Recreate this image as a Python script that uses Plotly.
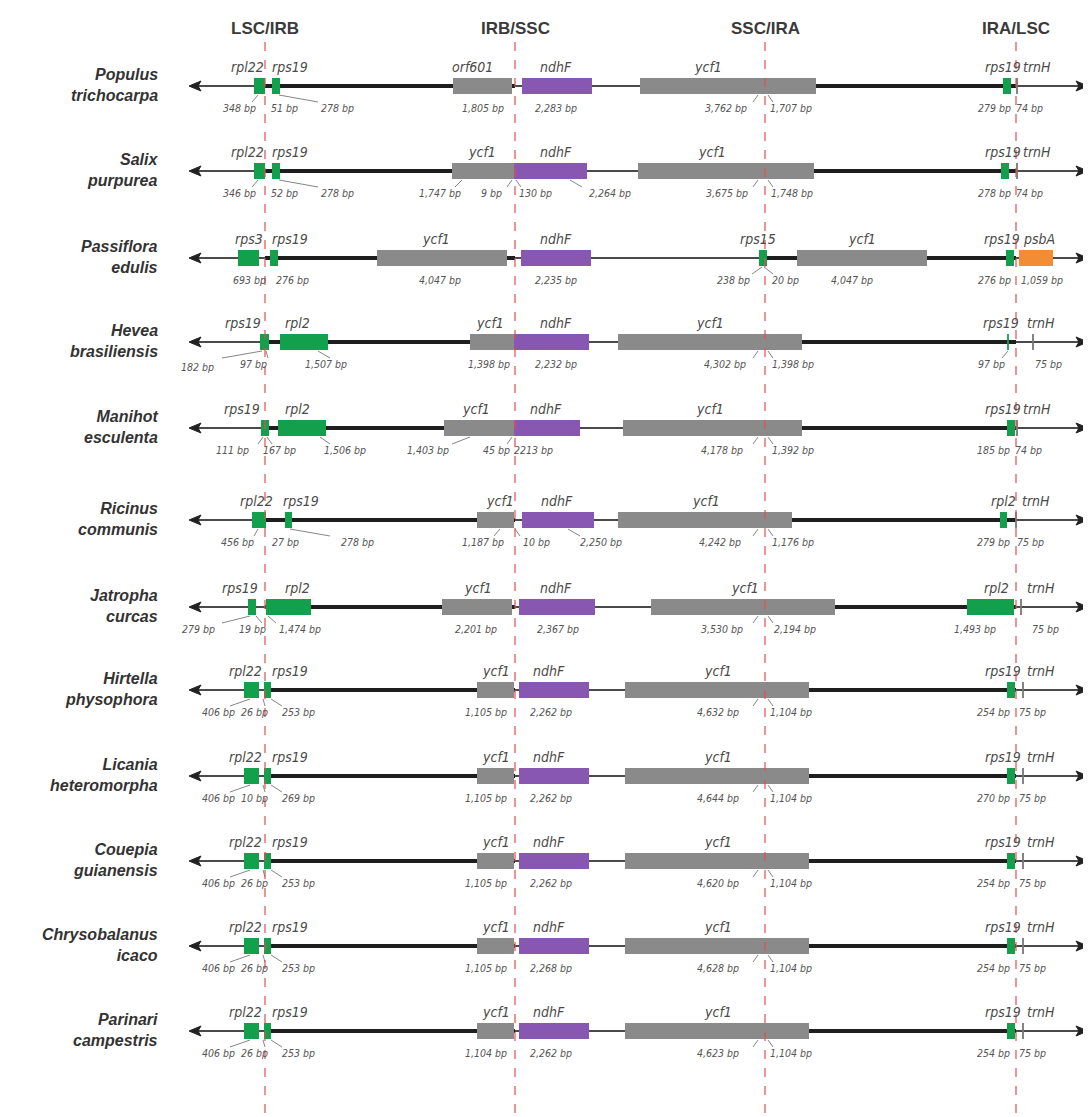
import plotly.graph_objects as go

# ---------------- data ----------------
junction_names = ["LSC/IRB", "IRB/SSC", "SSC/IRA", "IRA/LSC"]
junction_x = [265, 515, 765, 1016]

species_genus = ["Populus", "Salix", "Passiflora", "Hevea", "Manihot", "Ricinus",
                 "Jatropha", "Hirtella", "Licania", "Couepia", "Chrysobalanus", "Parinari"]
species_epithet = ["trichocarpa", "purpurea", "edulis", "brasiliensis", "esculenta", "communis",
                   "curcas", "physophora", "heteromorpha", "guianensis", "icaco", "campestris"]

# genes per row: (name, start, end, color-key, label_x)
G, Y, P, O = "green", "gray", "purple", "orange"
genes = [
    [("rpl22", 254, 265, G, 247), ("rps19", 272, 280, G, 290), ("orf601", 453, 512, Y, 472),
     ("ndhF", 522, 592, P, 556), ("ycf1", 640, 816, Y, 708), ("rps19", 1003, 1011, G, 1003),
     ("trnH", 1017, 1018, Y, 1037)],
    [("rpl22", 254, 265, G, 247), ("rps19", 272, 280, G, 290), ("ycf1", 452, 514, Y, 482),
     ("ndhF", 514, 587, P, 556), ("ycf1", 638, 814, Y, 712), ("rps19", 1001, 1009, G, 1003),
     ("trnH", 1017, 1018, Y, 1037)],
    [("rps3", 238, 259, G, 249), ("rps19", 270, 278, G, 290), ("ycf1", 377, 507, Y, 436),
     ("ndhF", 521, 591, P, 556), ("rps15", 759, 767, G, 758), ("ycf1", 797, 927, Y, 862),
     ("rps19", 1006, 1014, G, 1002), ("psbA", 1019, 1053, O, 1039)],
    [("rps19", 260, 269, G, 243), ("rpl2", 280, 328, G, 297), ("ycf1", 470, 514, Y, 490),
     ("ndhF", 514, 589, P, 556), ("ycf1", 618, 802, Y, 710), ("rps19", 1008, 1010, G, 1001),
     ("trnH", 1033, 1034, Y, 1041)],
    [("rps19", 261, 269, G, 242), ("rpl2", 278, 326, G, 297), ("ycf1", 444, 514, Y, 476),
     ("ndhF", 514, 580, P, 546), ("ycf1", 623, 802, Y, 710), ("rps19", 1007, 1015, G, 1003),
     ("trnH", 1017, 1018, Y, 1037)],
    [("rpl22", 252, 266, G, 256), ("rps19", 285, 292, G, 301), ("ycf1", 477, 514, Y, 500),
     ("ndhF", 522, 594, P, 557), ("ycf1", 618, 792, Y, 706), ("rpl2", 1000, 1007, G, 1003),
     ("trnH", 1016, 1017, Y, 1036)],
    [("rps19", 248, 256, G, 240), ("rpl2", 266, 311, G, 297), ("ycf1", 442, 512, Y, 478),
     ("ndhF", 519, 595, P, 556), ("ycf1", 651, 835, Y, 745), ("rpl2", 967, 1014, G, 996),
     ("trnH", 1021, 1022, Y, 1041)],
] + [
    [("rpl22", 244, 259, G, 245), ("rps19", 264, 271, G, 290), ("ycf1", 477, 514, Y, 496),
     ("ndhF", 519, 589, P, 549), ("ycf1", 625, 809, Y, 718), ("rps19", 1007, 1015, G, 1003),
     ("trnH", 1023, 1024, Y, 1041)]
    for _ in range(5)
]

# bp labels per row: (text, label_x)
bp_labels = [
    [("348 bp", 239), ("51 bp", 284), ("278 bp", 337), ("1,805 bp", 483), ("2,283 bp", 556),
     ("3,762 bp", 726), ("1,707 bp", 791), ("279 bp", 994), ("74 bp", 1029)],
    [("346 bp", 239), ("52 bp", 284), ("278 bp", 337), ("1,747 bp", 440), ("9 bp", 491),
     ("130 bp", 535), ("2,264 bp", 610), ("3,675 bp", 727), ("1,748 bp", 792), ("278 bp", 994),
     ("74 bp", 1029)],
    [("693 bp", 249), ("276 bp", 292), ("4,047 bp", 440), ("2,235 bp", 556), ("238 bp", 733),
     ("20 bp", 785), ("4,047 bp", 852), ("276 bp", 994), ("1,059 bp", 1042)],
    [("182 bp", 197), ("97 bp", 253), ("1,507 bp", 326), ("1,398 bp", 489), ("2,232 bp", 556),
     ("4,302 bp", 725), ("1,398 bp", 793), ("97 bp", 991), ("75 bp", 1048)],
    [("111 bp", 232), ("167 bp", 279), ("1,506 bp", 345), ("1,403 bp", 428), ("45 bp", 496),
     ("2213 bp", 533), ("4,178 bp", 722), ("1,392 bp", 793), ("185 bp", 993), ("74 bp", 1028)],
    [("456 bp", 237), ("27 bp", 285), ("278 bp", 357), ("1,187 bp", 483), ("10 bp", 536),
     ("2,250 bp", 601), ("4,242 bp", 720), ("1,176 bp", 793), ("279 bp", 993), ("75 bp", 1030)],
    [("279 bp", 198), ("19 bp", 252), ("1,474 bp", 300), ("2,201 bp", 476), ("2,367 bp", 558),
     ("3,530 bp", 722), ("2,194 bp", 795), ("1,493 bp", 975), ("75 bp", 1045)],
    [("406 bp", 218), ("26 bp", 254), ("253 bp", 298), ("1,105 bp", 486), ("2,262 bp", 551),
     ("4,632 bp", 718), ("1,104 bp", 791), ("254 bp", 993), ("75 bp", 1032)],
    [("406 bp", 218), ("10 bp", 254), ("269 bp", 298), ("1,105 bp", 486), ("2,262 bp", 551),
     ("4,644 bp", 718), ("1,104 bp", 791), ("270 bp", 993), ("75 bp", 1032)],
    [("406 bp", 218), ("26 bp", 254), ("253 bp", 298), ("1,105 bp", 486), ("2,262 bp", 551),
     ("4,620 bp", 718), ("1,104 bp", 791), ("254 bp", 993), ("75 bp", 1032)],
    [("406 bp", 218), ("26 bp", 254), ("253 bp", 298), ("1,105 bp", 486), ("2,268 bp", 551),
     ("4,628 bp", 718), ("1,104 bp", 791), ("254 bp", 993), ("75 bp", 1032)],
    [("406 bp", 218), ("26 bp", 254), ("253 bp", 298), ("1,104 bp", 486), ("2,262 bp", 551),
     ("4,623 bp", 718), ("1,104 bp", 791), ("254 bp", 993), ("75 bp", 1032)],
]

# leader lines per row: (x_gene, x_label)
leaders = [
    [(258, 252), (279, 318), (758, 753), (768, 773)],
    [(258, 252), (279, 318), (462, 455), (512, 507), (516, 521), (570, 582), (758, 753), (768, 773)],
    [(762, 752), (764, 773)],
    [(262, 222), (266, 268), (318, 330), (758, 753), (768, 773), (1008, 1002)],
    [(263, 258), (267, 272), (320, 330), (470, 452), (512, 507), (758, 753), (768, 773)],
    [(258, 254), (290, 330), (500, 494), (515, 520), (568, 580), (758, 753), (768, 773)],
    [(250, 222), (256, 262), (268, 276), (758, 753), (768, 773)],
] + [[(250, 230), (263, 265), (271, 282), (758, 753), (768, 773)] for _ in range(5)]

# ---------------- layout constants ----------------
row_y = [86, 171, 258, 342, 428, 520, 607, 690, 776, 861, 946, 1031]
colors = {"green": "#12a04c", "gray": "#8a8a8a", "purple": "#8757b2", "orange": "#f28c35"}
thin_colors = {"green": "#12a04c", "gray": "#777777", "purple": "#8757b2", "orange": "#f28c35"}
LINE_L, LINE_R = 189, 1088
BOX_H = 8
FONT = "Liberation Sans Narrow, DejaVu Sans Condensed, Liberation Sans, Arial"
PAGE_OFFSET = 8  # default body margin of the html page

fig = go.Figure()
shapes, annotations = [], []

def seg(x0, x1, y, w, c):
    shapes.append(dict(type="line", x0=x0, x1=x1, y0=y, y1=y, xref="x", yref="y",
                       line=dict(color=c, width=w), layer="below"))

for i, y in enumerate(row_y):
    j = junction_x
    seg(LINE_L + 6, j[0], y, 2, "#4a4a4a")
    seg(j[0], j[1], y, 4, "#1e1e1e")
    seg(j[1], j[2], y, 2, "#4a4a4a")
    seg(j[2], j[3], y, 4, "#1e1e1e")
    seg(j[3], LINE_R - 6, y, 2, "#4a4a4a")
    shapes.append(dict(type="path", xref="x", yref="y",
                       path=f"M {LINE_L} {y} L {LINE_L+12} {y-5} L {LINE_L+9} {y} L {LINE_L+12} {y+5} Z",
                       fillcolor="#222222", line=dict(color="#222222", width=1)))
    shapes.append(dict(type="path", xref="x", yref="y",
                       path=f"M {LINE_R} {y} L {LINE_R-12} {y-5} L {LINE_R-9} {y} L {LINE_R-12} {y+5} Z",
                       fillcolor="#222222", line=dict(color="#222222", width=1)))
    for name, s, e, ck, lx in genes[i]:
        if e - s <= 2:
            shapes.append(dict(type="line", xref="x", yref="y", x0=s, x1=s, y0=y - BOX_H, y1=y + BOX_H,
                               line=dict(color=thin_colors[ck], width=1.8)))
        else:
            shapes.append(dict(type="rect", xref="x", yref="y", x0=s, x1=e, y0=y - BOX_H, y1=y + BOX_H,
                               fillcolor=colors[ck], line=dict(width=0)))
        annotations.append(dict(x=lx, y=y - 19, xref="x", yref="y", text=f"<i>{name}</i>",
                                showarrow=False, font=dict(family=FONT, size=14, color="#4a4a4a")))
    for k, (txt, lx) in enumerate(bp_labels[i]):
        dy = 25 if (i == 3 and k == 0) else 22
        annotations.append(dict(x=lx, y=y + dy, xref="x", yref="y", text=f"<i>{txt}</i>",
                                showarrow=False, font=dict(family=FONT, size=10.5, color="#555555")))
    for xg, xl in leaders[i]:
        shapes.append(dict(type="line", xref="x", yref="y", x0=xg, x1=xl, y0=y + BOX_H + 1, y1=y + 16,
                           line=dict(color="#666666", width=0.8)))
    annotations.append(dict(x=160, y=y - 1, xref="x", yref="y", xanchor="right",
                            text=f"<b><i>{species_genus[i]}<br>{species_epithet[i]}</i></b>",
                            showarrow=False, align="right",
                            font=dict(family="Liberation Sans, Arial", size=16, color="#333333")))

for name, x in zip(junction_names, junction_x):
    shapes.append(dict(type="line", xref="x", yref="y", x0=x, x1=x, y0=42, y1=1125,
                       line=dict(color="#e0504f", width=1.2, dash="dash")))
    annotations.append(dict(x=x, y=28, xref="x", yref="y", text=f"<b>{name}</b>", showarrow=False,
                            font=dict(family="Liberation Sans, Arial", size=17, color="#3a3a3a")))

fig.update_layout(
    width=1091, height=1117, margin=dict(l=0, r=0, t=0, b=0),
    paper_bgcolor="white", plot_bgcolor="white", showlegend=False,
    xaxis=dict(range=[PAGE_OFFSET, 1091 + PAGE_OFFSET], visible=False, fixedrange=True),
    yaxis=dict(range=[1117 + PAGE_OFFSET, PAGE_OFFSET], visible=False, fixedrange=True),
    shapes=shapes, annotations=annotations,
)
fig.write_html("out.html")
